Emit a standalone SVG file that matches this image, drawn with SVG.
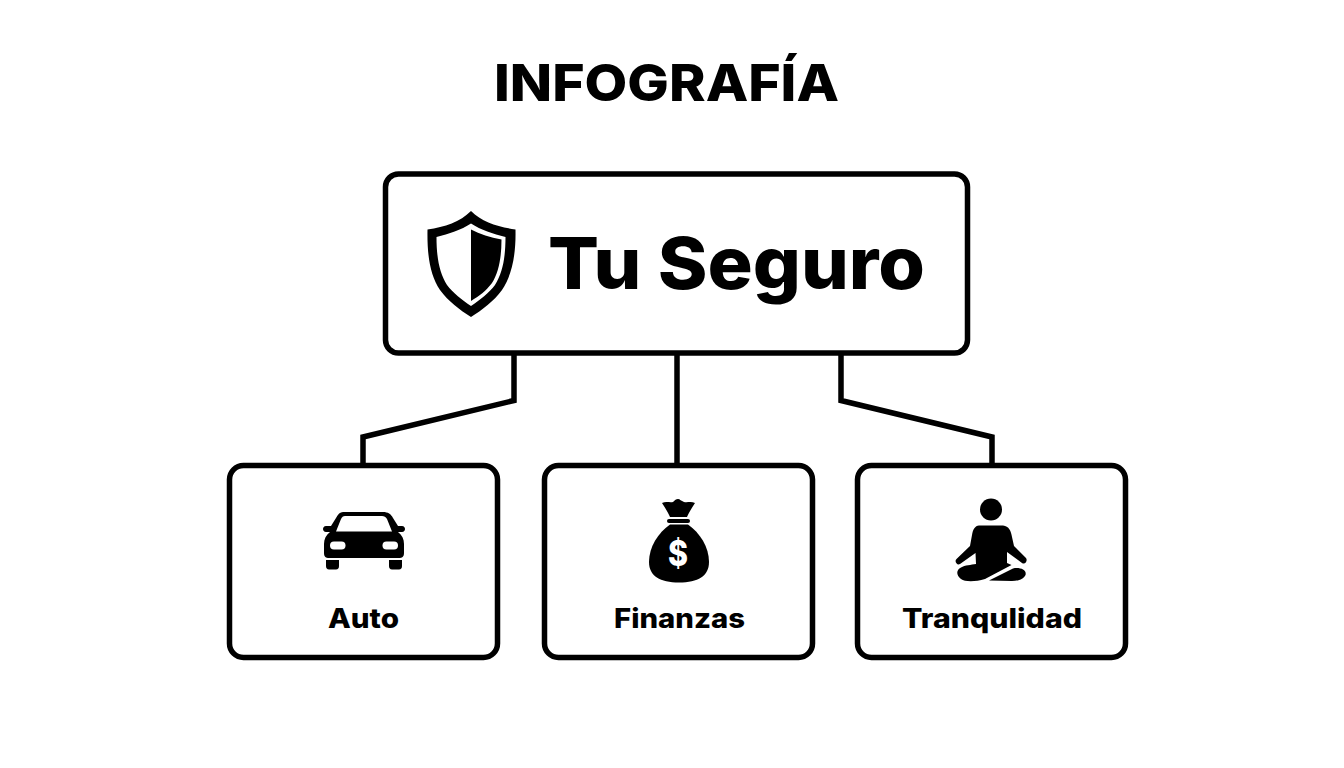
<svg xmlns="http://www.w3.org/2000/svg" width="1344" height="768" viewBox="0 0 1344 768">
<style>
.box{fill:#fff;stroke:#000;stroke-width:5.500}
.conn{fill:none;stroke:#000;stroke-width:5.500;stroke-linejoin:miter}
text{font-family:"Inter","Liberation Sans",sans-serif;font-weight:800;fill:#000}
.lbl{font-size:27px}
</style>
<rect width="1344" height="768" fill="#fff"/>
<text id="title" x="494" y="101" font-size="51" textLength="345" lengthAdjust="spacingAndGlyphs">INFOGRAFÍA</text>
<g id="connectors">
<path class="conn" d="M514 354V400.500L363 437V465"/>
<path class="conn" d="M677 354V465"/>
<path class="conn" d="M841 354V400.500L992 437V465"/>
</g>
<g id="node-seguro">
<rect class="box" x="385.500" y="174" width="582" height="179" rx="13"/>
<path d="M471 211C460 222 445 227 427.500 229.500C427 255 430 275 440 290C448 301 460 310 471 317C482 310 494 301 502 290C512 275 516 255 515.500 229.500C498 227 482 222 471 211Z"/>
<path fill="#fff" d="M471 223.500C461 230 449 234 436.500 237C436.500 258 439.500 273 447 285C453 293 462 300 471 306C480 300 489 293 495 285C502.500 273 505.500 258 505.500 237C493 234 481 230 471 223.500Z"/>
<path d="M471 229.500C480 234 490 237.500 501.500 239.500C501.500 258 498.500 273 492 283C486 291 479 296 471 301Z"/>
<text x="548" y="289" font-size="72" textLength="377" lengthAdjust="spacingAndGlyphs">Tu Seguro</text>
</g>
<g id="node-auto">
<rect class="box" x="229.500" y="465.500" width="268" height="192" rx="14"/>
<path d="M343 512H383C388 512 391 514 393 518L398 526H402C406 526 406 532 402 532H398C402 535 404 539 404 544V553C404 557 402 558 399 558H329C326 558 324 557 324 553V544C324 539 326 535 330 532H326C322 532 322 526 326 526H331L336 518C338 514 340 512 343 512Z"/>
<path fill="#fff" d="M345 516H382C384 516 386 517 387 519L392 531.500H336L341 519C342 517 343 516 345 516Z"/>
<rect x="330" y="541.500" width="15.500" height="8" rx="4" fill="#fff"/>
<rect x="382.500" y="541.500" width="15.500" height="8" rx="4" fill="#fff"/>
<path d="M326 560H339V566C339 568 338 569.500 336 569.500H329C327 569.500 326 568 326 566Z"/>
<path d="M389 560H402V566C402 568 401 569.500 399 569.500H392C390 569.500 389 568 389 566Z"/>
<text class="lbl" x="328" y="628" textLength="71" lengthAdjust="spacingAndGlyphs">Auto</text>
</g>
<g id="node-finanzas">
<rect class="box" x="544.500" y="465.500" width="268" height="192" rx="14"/>
<path d="M662 503C666 501 670 503 673 502C675 500 676 499 678 499C680 499 681 501 684 502C687 503 691 501 695 503C692 508 689 512 687 517H670C668 512 665 508 662 503Z"/>
<rect x="667" y="519" width="23" height="4" rx="2"/>
<path d="M670 524.500H688C700 533 709 547 709 562C709 576 698 582.500 679 582.500C660 582.500 649 576 649 562C649 547 658 533 670 524.500Z"/>
<text x="678" y="566" font-size="36" text-anchor="middle" textLength="20" lengthAdjust="spacingAndGlyphs" style="fill:#fff">$</text>
<text class="lbl" x="614" y="628" textLength="131" lengthAdjust="spacingAndGlyphs">Finanzas</text>
</g>
<g id="node-tranquilidad">
<rect class="box" x="857.500" y="465.500" width="268" height="192" rx="14"/>
<circle cx="991" cy="509.500" r="11"/>
<path d="M979 525.500H1003C1009 526 1011 531 1012 537L1014 546L1026 558C1028 561 1025 565 1022 563L1007 552L1007 563L1011.500 565L985 579C975 582 965 582 961 579C956 575 956 570 961 567.500C965 565 971 565 976 564L975.500 553L960 564C957 566 954 561 956.500 559L970 546L972 535C973 529 975 526 979 525.500Z"/>
<path d="M989 580.500L1013 568.500C1020 567 1027 570 1025.500 575C1024 579 1018 581 1012 581Z"/>
<text class="lbl" x="902" y="628" textLength="180" lengthAdjust="spacingAndGlyphs">Tranqulidad</text>
</g>
</svg>
